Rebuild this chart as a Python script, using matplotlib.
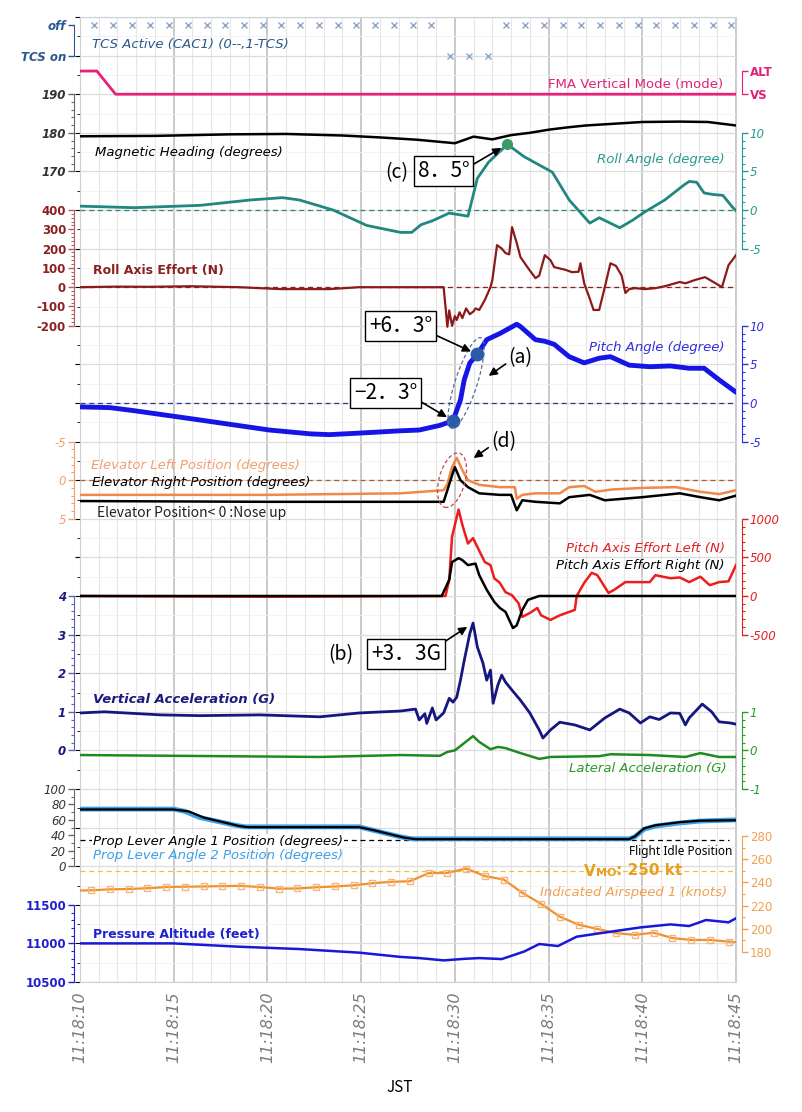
import numpy as np
import matplotlib.pyplot as plt
import matplotlib.transforms as mtransforms
from matplotlib.patches import Ellipse

plt.rcParams['font.family'] = ['DejaVu Sans']
JP = ['Noto Sans CJK JP', 'DejaVu Sans']

# ---- data (time in seconds after 11:18:10 JST) ----
time_labels = ['11:18:10', '11:18:15', '11:18:20', '11:18:25',
               '11:18:30', '11:18:35', '11:18:40', '11:18:45']

tcs_t = [0.75 + k for k in range(35)]
tcs = [0] * 19 + [1, 1, 1] + [0] * 13          # 0 = off, 1 = TCS on

fma_t = [0, 0.9, 1.9, 35]
fma = [1, 1, 0, 0]                              # 1 = ALT, 0 = VS

hdg_t = [0, 4, 8, 11, 14, 16, 18, 20, 21, 22, 23, 24, 25, 26, 27, 28, 30, 32, 33.5, 35]
hdg = [179.1, 179.2, 179.6, 179.7, 179.3, 178.8, 178.2, 177.3, 179.0, 178.3,
       179.4, 180.0, 180.8, 181.4, 181.9, 182.2, 182.8, 182.9, 182.8, 181.9]

roll_t = [0, 2.9, 6.4, 9.1, 10.8, 11.7, 13.5, 15.3, 17.1, 17.7, 18.2, 18.8, 19.7,
          20.7, 21.2, 21.8, 22.8, 23.7, 25.2, 26.1, 27.2, 27.7, 28.8, 29.5, 30.1,
          31.2, 32.2, 32.5, 32.9, 33.3, 33.8, 34.3, 34.8, 35]
roll = [0.5, 0.3, 0.6, 1.3, 1.6, 1.3, 0.0, -2.0, -2.9, -2.9, -1.9, -1.4, -0.4,
        -0.8, 4.1, 6.2, 8.5, 6.9, 4.9, 1.3, -1.7, -1.0, -2.3, -1.3, -0.3,
        1.3, 3.2, 3.7, 3.6, 2.2, 2.0, 1.9, 0.4, -0.1]

reff_t = [0, 2, 3.7, 5.9, 8.5, 10.7, 13.3, 14.9, 17.1, 19.4, 19.5, 19.6, 19.7,
          19.85, 20.0, 20.1, 20.25, 20.4, 20.6, 20.8, 21.0, 21.1, 21.3, 21.6,
          21.9, 22.0, 22.25, 22.5, 22.7, 22.9, 23.05, 23.3, 23.5, 23.9, 24.3,
          24.5, 24.8, 25.1, 25.3, 25.9, 26.25, 26.6, 26.7, 26.9, 27.2, 27.4,
          27.7, 28.0, 28.3, 28.6, 28.9, 29.1, 29.3, 29.6, 30.15, 30.7, 31.2,
          32.0, 32.3, 32.8, 33.35, 33.9, 34.25, 34.6, 35]
reff = [0, 3, 2, 5, 0, -10, -10, 0, 0, 0, -100, -205, -120, -200, -150, -170,
        -130, -160, -110, -140, -125, -110, -118, -66, 0, 37, 218, 200, 177,
        170, 311, 230, 156, 100, 47, 60, 166, 140, 104, 90, 78, 80, 124, 20,
        -60, -118, -118, 0, 124, 110, 60, -30, -10, -5, -10, -5, 5, 27, 20, 37,
        52, 21, 0, 114, 166]

pitch_t = [0, 1.6, 2.9, 6.4, 10.1, 12.3, 13.3, 14.9, 17.1, 18.1, 19.2, 19.9,
           20.3, 20.5, 20.8, 21.2, 21.7, 22.4, 23.3, 23.5, 24.3, 24.8, 25.3,
           26.1, 26.9, 27.7, 28.3, 29.3, 30.4, 31.5, 32.5, 33.3, 34.1, 35]
pitch = [-0.5, -0.6, -1.0, -2.2, -3.5, -4.0, -4.1, -3.9, -3.6, -3.5, -2.9, -2.3,
         0.4, 3.0, 5.2, 6.3, 8.2, 9.0, 10.2, 9.9, 8.2, 8.0, 7.6, 6.0, 5.2, 5.8,
         6.0, 4.9, 4.7, 4.8, 4.5, 4.5, 3.0, 1.4]

elev_l_t = [0, 10, 17.1, 19.4, 19.6, 19.85, 20.1, 20.4, 20.7, 21.3, 22.4, 23.2,
            23.3, 23.6, 24.3, 25.6, 26.1, 26.9, 27.5, 28.4, 30.0, 31.8, 33.1, 34.1, 35]
elev_l = [1.9, 1.9, 1.7, 1.3, 0.5, -1.7, -2.9, -1.3, 0.0, 0.6, 0.9, 0.9,
          2.4, 1.9, 1.7, 1.7, 0.9, 0.75, 1.5, 1.2, 1.0, 0.9, 1.5, 1.8, 1.3]
elev_r_t = [0, 10, 17.1, 19.4, 19.6, 19.9, 20.0, 20.3, 20.7, 21.3, 22.4, 23.0,
            23.3, 23.6, 24.3, 25.6, 26.1, 27.2, 28.0, 30.0, 32.0, 33.1, 34.1, 35]
elev_r = [2.7, 2.8, 2.8, 2.8, 1.3, -1.0, -1.7, 0.0, 0.9, 1.7, 1.9, 1.9,
          3.9, 2.6, 2.8, 3.0, 2.2, 1.9, 2.6, 2.2, 1.7, 2.2, 2.6, 2.0]

peff_l_t = [0, 10, 19.3, 19.5, 19.7, 19.85, 20.2, 20.4, 20.7, 20.97, 21.2, 21.6,
            21.9, 22.1, 22.4, 22.7, 23.05, 23.4, 23.6, 24.0, 24.4, 24.6, 25.1,
            25.6, 26.4, 26.5, 26.9, 27.3, 27.6, 28.2, 28.5, 29.1, 30.4, 30.7,
            31.5, 32.0, 32.5, 33.1, 33.6, 34.1, 34.6, 35]
peff_l = [0, -10, 0, 0, 210, 770, 1120, 920, 680, 750, 635, 440, 400, 230, 170,
          50, 10, -95, -270, -220, -155, -250, -310, -250, -180, 0, 170, 300,
          270, 40, 80, 180, 180, 270, 230, 240, 180, 250, 140, 180, 190, 400]
peff_r_t = [0, 19.3, 19.7, 19.85, 20.2, 20.4, 20.7, 21.1, 21.3, 21.7, 22.1,
            22.4, 22.7, 22.9, 23.1, 23.3, 23.6, 23.9, 24.5, 35]
peff_r = [0, 0, 210, 440, 490, 465, 400, 420, 270, 80, -75, -155, -205, -310,
          -415, -380, -180, -50, 0, 0]

vacc_t = [0, 1.3, 4.3, 6.4, 9.6, 12.8, 14.9, 17.1, 17.9, 18.1, 18.4, 18.5, 18.8,
          19.0, 19.4, 19.7, 19.9, 20.1, 20.3, 20.5, 20.8, 20.97, 21.2, 21.5,
          21.7, 21.9, 22.04, 22.3, 22.5, 22.7, 23.05, 23.5, 24.0, 24.5, 24.7,
          25.1, 25.6, 26.4, 27.2, 28.0, 28.8, 29.3, 29.9, 30.4, 30.9, 31.5,
          32.0, 32.3, 32.5, 33.2, 33.7, 34.1, 34.7, 35]
vacc = [0.97, 1.0, 0.92, 0.9, 0.92, 0.87, 0.97, 1.02, 1.07, 0.79, 0.95, 0.7,
        1.1, 0.79, 0.97, 1.35, 1.25, 1.38, 1.82, 2.33, 3.03, 3.3, 2.68, 2.26,
        1.82, 2.08, 1.22, 1.7, 1.95, 1.77, 1.56, 1.3, 0.97, 0.53, 0.32, 0.53,
        0.73, 0.66, 0.53, 0.84, 1.07, 0.97, 0.71, 0.87, 0.8, 0.97, 0.96, 0.66,
        0.84, 1.2, 1.0, 0.74, 0.71, 0.68]

lacc_t = [0, 12.8, 17.1, 19.2, 19.6, 20.0, 20.5, 20.97, 21.3, 21.9, 22.3, 22.7,
          23.5, 24.5, 25.1, 27.7, 28.3, 30.4, 32.3, 33.1, 34.1, 35]
lacc = [-0.12, -0.17, -0.12, -0.14, -0.04, 0.0, 0.19, 0.37, 0.22, 0.03, 0.09,
        0.06, -0.07, -0.22, -0.17, -0.15, -0.1, -0.12, -0.17, -0.07, -0.17, -0.17]

pla2_t = [0, 5.0, 5.6, 6.4, 8.3, 8.8, 14.9, 15.4, 17.1, 17.7, 29.3, 29.6, 30.1,
          30.7, 32.0, 33.1, 35]
pla2 = [74, 74, 71, 63, 53, 51, 51, 48, 38, 35.5, 35.5, 38, 48, 52, 56, 58.5, 60]
pla1_t = [0, 5.0, 5.8, 6.6, 8.5, 9.0, 14.9, 15.6, 17.3, 17.9, 29.3, 29.6, 30.1,
          30.7, 32.0, 33.1, 35]
pla1 = [73.5, 73.5, 71, 63, 52, 50.5, 50.5, 47, 37, 35, 35, 38.5, 49, 53, 57, 59, 59.5]
flight_idle = 34

ias_t = [0] + [0.6 + k for k in range(35)] + [35]
ias = [233.0, 233.2, 234.0, 234.3, 235.0, 236.0, 236.3, 236.5, 236.8, 237.0,
       236.0, 234.6, 234.8, 235.8, 236.5, 237.5, 239.3, 240.5, 241.0, 248.0,
       248.2, 252.0, 245.5, 242.5, 231.0, 221.5, 210.4, 203.5, 199.8, 196.2,
       194.7, 196.6, 192.0, 190.3, 190.3, 188.9, 188.4]
vmo = 250

alt_t = [0, 5.0, 8.5, 11.7, 14.9, 17.1, 18.1, 19.4, 20.5, 21.3, 22.5, 23.7,
         24.5, 25.5, 26.5, 27.7, 29.9, 31.5, 32.5, 33.4, 34.6, 35]
alt = [11000, 11000, 10957, 10927, 10880, 10825, 10810, 10780, 10800, 10810,
       10797, 10895, 10992, 10966, 11087, 11130, 11207, 11246, 11225, 11303,
       11273, 11325]

# ---- figure and the common grid (25 horizontal divisions) ----
fig = plt.figure(figsize=(8.03, 11.12), dpi=100)
base = fig.add_axes([80 / 803, 130 / 1112, 656 / 803, 965 / 1112])
base.set_xlim(0, 35)
base.set_ylim(25, 0)
base.set_xticks(np.arange(0, 36, 5), time_labels, fontstyle='italic')
base.set_xticks(np.arange(0, 36, 1), minor=True)
base.set_yticks(np.arange(0, 26, 1))
base.set_yticks(np.arange(0, 25.5, 0.5), minor=True)
base.grid(which='major', axis='x', color='#c6c6c6', lw=1.3)
base.grid(which='minor', axis='x', color='#e6e6e6', lw=0.8)
base.grid(which='major', axis='y', color='#dddddd', lw=0.9)
base.grid(which='minor', axis='y', color='#f1f1f1', lw=0.6)
base.set_axisbelow(True)
base.tick_params(axis='y', which='both', left=False, labelleft=False)
base.tick_params(axis='x', which='both', length=0, pad=7, labelsize=11.5,
                 labelcolor='#7c7c7c', labelrotation=90)
for s in base.spines.values():
    s.set_color('#cfcfcf')

# overlay for texts and annotations, drawn above every trace
top = base.twinx()
top.set_ylim(25, 0)
top.set_zorder(2)
top.axis('off')


def trace_axis(va, ga, vb, gb, side, color, ticks, labels=None, nminor=0,
               style='italic', weight='normal', spine=None):
    # a y axis where value va sits on grid row ga and vb on row gb
    ax = base.twinx()
    k = (vb - va) / (gb - ga)
    ax.set_ylim(va + (25 - ga) * k, va - ga * k)
    for s in ax.spines.values():
        s.set_visible(False)
    sp = ax.spines[side]
    sp.set_visible(True)
    sp.set_color(spine or color)
    sp.set_bounds(min(ticks), max(ticks))
    sp.set_position(('outward', 4))
    if side == 'left':
        ax.yaxis.tick_left()
    else:
        ax.yaxis.tick_right()
    if labels is None:
        labels = [str(v) for v in ticks]
    ax.set_yticks(ticks, labels, fontstyle=style, fontweight=weight)
    if nminor:
        ax.set_yticks(np.linspace(min(ticks), max(ticks), (len(ticks) - 1) * nminor + 1),
                      minor=True)
    ax.tick_params(axis='y', which='major', colors=spine or color, labelcolor=color,
                   labelsize=8.5, length=4, width=1, pad=2)
    ax.tick_params(axis='y', which='minor', colors=spine or color, length=2.5, width=0.8)
    return ax


def label(t, g, s, color, ha='left', style='italic', weight='normal', size=9, **kw):
    return top.text(t, g, s, color=color, ha=ha, va='center', fontstyle=style,
                    fontweight=weight, fontsize=size, **kw)


# TCS active
ax = trace_axis(0, 0.2, 1, 1.0, 'left', '#2a5a8a', [0, 1], ['off', 'TCS on'],
                weight='bold')
ax.plot(tcs_t, tcs, 'x', color='#8ea4c4', ms=5, mew=1)
label(0.64, 0.70, 'TCS Active (CAC1) (0--,1-TCS)', '#2a5a8a', size=9.5)

# FMA vertical mode
ax = trace_axis(0, 2.0, 1, 1.4, 'right', '#e0207a', [0, 1], ['VS', 'ALT'],
                style='normal', weight='bold')
ax.plot(fma_t, fma, color='#e8207a', lw=2)
label(34.3, 1.76, 'FMA Vertical Mode (mode)', '#e0207a', ha='right', style='normal',
      size=9.5)

# Magnetic heading
ax = trace_axis(190, 2, 170, 4, 'left', '#333333', [170, 180, 190], nminor=5,
                weight='bold', spine='#666666')
ax.plot(hdg_t, hdg, color='black', lw=1.8)
label(0.8, 3.52, 'Magnetic Heading (degrees)', 'black', size=9.5)

# Roll angle
ax_roll = trace_axis(10, 3, 0, 5, 'right', '#2a9a90', [-5, 0, 5, 10], nminor=5)
ax_roll.axhline(0, color='#2a8a70', lw=0.9, ls=(0, (4, 3)))
ax_roll.plot(roll_t, roll, color='#21877f', lw=2)
ax_roll.plot([22.8], [8.5], 'o', color='#3a9a6a', ms=7)
label(34.4, 3.70, 'Roll Angle (degree)', '#2a9a90', ha='right', size=9.5)

# Roll axis effort
ax = trace_axis(400, 5, 0, 7, 'left', '#8b2020', [-200, -100, 0, 100, 200, 300, 400],
                style='normal', weight='bold', nminor=5, spine='#b06060')
ax.axhline(0, color='#8b2020', lw=0.9, ls=(0, (4, 3)))
ax.plot(reff_t, reff, color='#8b1a1a', lw=1.6)
label(0.69, 6.58, 'Roll Axis Effort (N)', '#8b2020', style='normal', weight='bold', size=9)

# Pitch angle
ax_pitch = trace_axis(10, 8, 0, 10, 'right', '#3030e0', [-5, 0, 5, 10], nminor=5)
ax_pitch.axhline(0, color='#2a3a8a', lw=0.9, ls=(0, (4, 3)))
ax_pitch.plot(pitch_t, pitch, color='#1515e6', lw=3.5, solid_capstyle='round')
ax_pitch.plot([19.9, 21.2], [-2.3, 6.3], 'o', color='#2a5aa8', ms=9)
label(34.4, 8.55, 'Pitch Angle (degree)', '#3030e0', ha='right', size=9.5)

# Elevator positions (negative = nose up, drawn upward)
ax = trace_axis(-5, 11, 5, 13, 'left', '#f0a070', [-5, 0, 5], nminor=5)
ax.axhline(0, color='#b0602a', lw=0.9, ls=(0, (4, 3)))
ax.plot(elev_l_t, elev_l, color='#f08848', lw=1.8)
ax.plot(elev_r_t, elev_r, color='black', lw=1.8)
label(0.59, 11.62, 'Elevator Left Position (degrees)', '#f0a070', size=9.5)
label(0.64, 12.05, 'Elevator Right Position (degrees)', 'black', size=9.5)
top.text(0.9, 12.85, 'Elevator Position< 0 :Nose up', family=JP, fontsize=10,
         color='#222222', va='center')

# Pitch axis effort
ax = trace_axis(1000, 13, 0, 15, 'right', '#e02020', [-500, 0, 500, 1000], nminor=5)
ax.plot(peff_l_t, peff_l, color='#ee1c1c', lw=1.8)
ax.plot(peff_r_t, peff_r, color='black', lw=1.8)
label(34.4, 13.78, 'Pitch Axis Effort Left (N)', '#e02020', ha='right', size=9.5)
label(34.4, 14.20, 'Pitch Axis Effort Right (N)', 'black', ha='right', size=9.5)

# Vertical acceleration
ax_vacc = trace_axis(4, 15, 0, 19, 'left', '#1a1a80', [0, 1, 2, 3, 4], nminor=5,
                     weight='bold', spine='#6060b0')
ax_vacc.plot(vacc_t, vacc, color='#161680', lw=2)
label(0.69, 17.67, 'Vertical Acceleration (G)', '#1a1a80', weight='bold', size=9.5)

# Lateral acceleration
ax = trace_axis(1, 18, -1, 20, 'right', '#2a9a2a', [-1, 0, 1], nminor=5)
ax.plot(lacc_t, lacc, color='#1f8a1f', lw=1.8)
label(34.5, 19.46, 'Lateral Acceleration (G)', '#2a9a2a', ha='right', size=9.5)

# Prop lever angles
ax = trace_axis(100, 20, 0, 22, 'left', '#333333', [0, 20, 40, 60, 80, 100],
                nminor=2, spine='#666666')
ax.axhline(flight_idle, xmax=0.99, color='black', lw=0.9, ls=(0, (4, 3)))
ax.plot(pla2_t, pla2, color='#3aa0e8', lw=3.5)
ax.plot(pla1_t, pla1, color='black', lw=1.6)
white = dict(facecolor='white', edgecolor='none', pad=0.5)
label(0.69, 21.35, 'Prop Lever Angle 1 Position (degrees)', 'black', size=9.5, bbox=white)
label(0.69, 21.72, 'Prop Lever Angle 2 Position (degrees)', '#3aa0e8', size=9.5)
top.text(34.8, 21.63, 'Flight Idle Position', family=['Noto Sans', 'DejaVu Sans'],
         fontsize=8.5, color='black', ha='right', va='center')

# Indicated airspeed
ax = trace_axis(280, 21.22, 180, 24.22, 'right', '#f0a050',
                [180, 200, 220, 240, 260, 280], style='normal', nminor=2)
ax.axhline(vmo, color='#f0c040', lw=0.9, ls=(0, (4, 3)))
ax.plot(ias_t, ias, color='#f0922b', lw=1.6, marker='s', ms=5, mfc='none',
        mec='#f5b57a', mew=1, markevery=list(range(1, len(ias) - 1)))
label(34.5, 22.67, 'Indicated Airspeed 1 (knots)', '#f0a050', ha='right', size=9.5)
v = top.text(26.9, 22.15, 'V', color='#e6a020', fontsize=11, fontweight='bold',
             va='center')
mo = top.annotate('MO', xy=(1, 0.08), xycoords=v, color='#e6a020', fontsize=8,
                  fontweight='bold', va='bottom')
top.annotate(': 250 kt', xy=(1, 0), xycoords=mo, color='#e6a020', fontsize=11,
             fontweight='bold', va='bottom')

# Pressure altitude
ax = trace_axis(11000, 24, 10500, 25, 'left', '#2020d0', [10500, 11000, 11500],
                style='normal', weight='bold', nminor=5)
ax.plot(alt_t, alt, color='#1818d8', lw=1.8)
label(0.69, 23.76, 'Pressure Altitude (feet)', '#2020d0', style='normal',
      weight='bold', size=9)

# ---- annotations ----
box = dict(boxstyle='square,pad=0.18', facecolor='white', edgecolor='black', lw=1)


def arrow(rel):
    return dict(arrowstyle='-|>', color='black', lw=1.2, mutation_scale=12,
                relpos=rel, shrinkA=0, shrinkB=5)


top.text(16.9, 4.02, '(c)', family=JP, fontsize=14, ha='center', va='center')
top.annotate('8．5°', xy=(22.8, 8.5), xycoords=ax_roll.transData,
             xytext=(19.4, 3.99), textcoords='data', family=JP, fontsize=15,
             ha='center', va='center', bbox=box, arrowprops=arrow((1, 0.7)))
top.annotate('+6．3°', xy=(21.2, 6.3), xycoords=ax_pitch.transData,
             xytext=(17.1, 8.0), textcoords='data', family=JP, fontsize=15,
             ha='center', va='center', bbox=box, arrowprops=arrow((1, 0.15)))
top.annotate('−2．3°', xy=(19.9, -2.3), xycoords=ax_pitch.transData,
             xytext=(16.3, 9.74), textcoords='data', family=JP, fontsize=15,
             ha='center', va='center', bbox=box, arrowprops=arrow((1, 0.2)))
top.annotate('(a)', xy=(21.5, 9.4), xytext=(23.5, 8.83), family=JP, fontsize=14,
             ha='center', va='center', arrowprops=arrow((0, 0.3)))
top.annotate('(d)', xy=(20.7, 11.53), xytext=(22.6, 11.0), family=JP, fontsize=14,
             ha='center', va='center', arrowprops=arrow((0, 0.3)))
top.text(13.9, 16.53, '(b)', family=JP, fontsize=14, ha='center', va='center')
top.annotate('+3．3G', xy=(20.97, 3.3), xycoords=ax_vacc.transData,
             xytext=(17.4, 16.5), textcoords='data', family=JP, fontsize=15,
             ha='center', va='center', bbox=box, arrowprops=arrow((1, 0.95)))

# dashed ellipses, sized in inches around a data centre
for (tc, gc, w, h, ang, col) in [(20.6, 9.48, 0.22, 0.95, -18, '#5a6a9a'),
                                 (19.85, 12.0, 0.26, 0.56, -15, '#d04050')]:
    tr = fig.dpi_scale_trans + mtransforms.ScaledTranslation(tc, gc, top.transData)
    top.add_patch(Ellipse((0, 0), w, h, angle=ang, transform=tr, fill=False,
                          ec=col, lw=0.9, ls=(0, (3, 2))))

fig.text(400 / 803, 1 - 1087 / 1112, 'JST', family=JP, fontsize=11, ha='center',
         va='center')

fig.savefig('out.png', dpi=100)
